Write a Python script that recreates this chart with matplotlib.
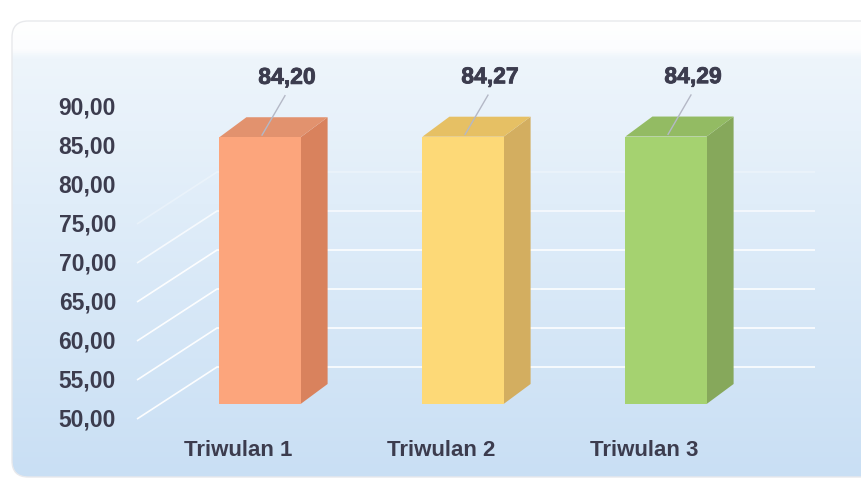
import numpy as np
import matplotlib
matplotlib.use("Agg")
import matplotlib.pyplot as plt
import matplotlib.patheffects as pe
from matplotlib.patches import Polygon, Rectangle, FancyBboxPatch
from matplotlib.colors import LinearSegmentedColormap

# data
kategori = ["Triwulan 1", "Triwulan 2", "Triwulan 3"]
nilai = [84.20, 84.27, 84.29]
label_nilai = ["84,20", "84,27", "84,29"]
ticks = [50, 55, 60, 65, 70, 75, 80, 85, 90]
tick_label = ["50,00", "55,00", "60,00", "65,00", "70,00", "75,00", "80,00", "85,00", "90,00"]

warna_depan = ["#fca57c", "#fdd977", "#a5d270"]
warna_atas = ["#e2926e", "#e6c064", "#93bb63"]
warna_samping = ["#d9825d", "#d3ae60", "#86a85b"]

teks = "#3c3c4e"
plt.rcParams['font.family'] = ['Liberation Sans', 'DejaVu Sans']

W, H = 861, 481
fig = plt.figure(figsize=(W / 100, H / 100), dpi=100)
ax = fig.add_axes([0, 0, 1, 1])

# skala: kategori 0 di px 260, 203 px per kategori; nilai 50 di px 420, 7.8 px per unit
px_x = 203.0
px_y = 7.8
x_lo, x_hi = -260 / px_x, (W - 260) / px_x
y_lo, y_hi = 50 - (H - 420) / px_y, 50 + 420 / px_y
ax.set_xlim(x_lo, x_hi)
ax.set_ylim(y_lo, y_hi)
ax.axis("off")


def xp(p):
    return (p - 260) / px_x


def yp(p):
    return 50 + (420 - p) / px_y


# latar panel bergradasi
warna_bg = LinearSegmentedColormap.from_list(
    "bg", [(0, "#ffffff"), (0.06, "#fcfdfe"), (0.08, "#eef5fb"),
           (0.4, "#e0edf9"), (1.0, "#c9dff4")])
grad = np.linspace(0, 1, 256).reshape(-1, 1)
panel = FancyBboxPatch((xp(12), yp(478)), xp(900) - xp(12), yp(22) - yp(478),
                       boxstyle="round,pad=0,rounding_size=0.08",
                       mutation_aspect=px_x / px_y,
                       facecolor="none", edgecolor="#e8e9ec", lw=1, zorder=2)
ax.add_patch(panel)
img = ax.imshow(grad, cmap=warna_bg, aspect="auto",
                extent=(xp(12), xp(900), yp(478), yp(22)), zorder=1)
img.set_clip_path(panel)

# kedalaman lantai dan batang
dx_lantai, dy_lantai = 80 / px_x, 52 / px_y
x_kiri = xp(137)
x_kanan = xp(815)
f0 = 15 / 52
dx_bar, dy_bar = 27 / px_x, 20 / px_y
lebar = 0.4

# garis grid (bagian atas memudar ke latar)
alpha_grid = {70: 0.75, 75: 0.3, 80: 0.0, 85: 0.0, 90: 0.0}
for v in ticks:
    a = alpha_grid.get(v, 0.95)
    if a == 0:
        continue
    ax.plot([x_kiri, x_kiri + dx_lantai, x_kanan],
            [v, v + dy_lantai, v + dy_lantai],
            color="white", lw=1.2, alpha=a, zorder=3, solid_capstyle="butt")

# label sumbu y
for v, t in zip(ticks, tick_label):
    ax.text(xp(116), v, t, ha="right", va="center", fontsize=16.5,
            fontweight="bold", color=teks, zorder=6)

tebal = [pe.withStroke(linewidth=0.6, foreground=teks)]

# batang 3D
for i, v in enumerate(nilai):
    bawah = 50 + f0 * dy_lantai
    atas = v + f0 * dy_lantai
    x1, x2 = i - lebar / 2, i + lebar / 2
    ax.add_patch(Polygon([(x2, bawah), (x2 + dx_bar, bawah + dy_bar),
                          (x2 + dx_bar, atas + dy_bar), (x2, atas)],
                         closed=True, facecolor=warna_samping[i],
                         edgecolor="none", zorder=4))
    ax.add_patch(Polygon([(x1, atas), (x2, atas), (x2 + dx_bar, atas + dy_bar),
                          (x1 + dx_bar, atas + dy_bar)],
                         closed=True, facecolor=warna_atas[i],
                         edgecolor="none", zorder=4))
    ax.add_patch(Rectangle((x1, bawah), lebar, atas - bawah,
                           facecolor=warna_depan[i], edgecolor="none", zorder=4))
    # garis penunjuk dan label nilai
    ax.plot([i + 0.123, i + 0.01], [v + 7.25, v + 2.2], color="#b4b8c6",
            lw=1, zorder=5)
    ax.text(i + 0.133, v + 9.6, label_nilai[i], ha="center", va="center",
            fontsize=16.5, fontweight="bold", color=teks, zorder=6,
            path_effects=tebal)
    ax.text(i - 0.108, yp(451), kategori[i], ha="center", va="center",
            fontsize=16, fontweight="bold", color=teks, zorder=6)

fig.savefig("out.png", dpi=100)
